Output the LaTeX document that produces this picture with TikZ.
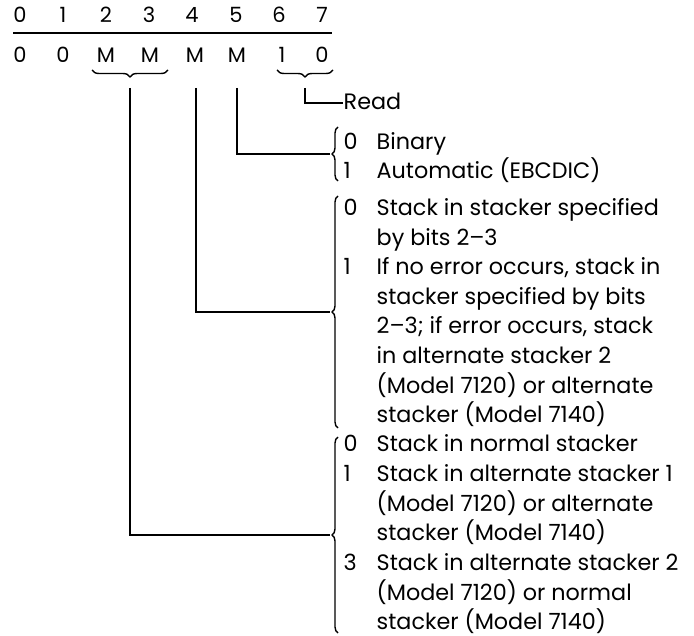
\documentclass[tikz,border=0pt]{standalone}
\usepackage{fontspec}
\setmainfont{Poppins}
\usetikzlibrary{decorations.pathreplacing}
\begin{document}
\begin{tikzpicture}[x=1pt,y=-1pt,line width=1.4pt,
  hdr/.style={inner sep=0pt,anchor=base,font=\fontsize{21}{24}\selectfont},
  blk/.style={inner sep=0pt,anchor=base west},
  conn/.style={line width=1.4pt},
  ubrace/.style={decorate,decoration={brace,amplitude=7pt},line width=1.4pt},
  lbrace/.style={decorate,decoration={brace,amplitude=6pt},line width=1.4pt}]
\useasboundingbox (0,0) rectangle (694,636);
% header
\foreach \i/\x in {0/20,1/63,2/106,3/149,4/192,5/236,6/279,7/322}
  \node[hdr] (h\i) at (\x,23) {\i};
\coordinate (hl) at (13,33);
\coordinate (hr) at (332,33);
\draw (hl) -- (hr);
\node[hdr] (b0) at (20,63) {0};
\node[hdr] (b1) at (63,63) {0};
\node[hdr] (b2) at (106,63) {M};
\node[hdr] (b3) at (150,63) {M};
\node[hdr] (b4) at (195,63) {M};
\node[hdr] (b5) at (237,63) {M};
\node[hdr] (b6) at (282,63) {1};
\node[hdr] (b7) at (322,63) {0};
% underbraces
\draw[ubrace] (168,70) -- (92,70);
\draw[ubrace] (333,70) -- (277,70);
% start points of connectors
\coordinate (c23) at (130,88);
\coordinate (c4) at (196,88);
\coordinate (c5) at (237,88);
\coordinate (c67) at (305,88);
% Read
\node[blk,font=\fontsize{22.3}{26}\selectfont] (read) at (343,110) {Read};
\draw[conn] (c67) |- ([yshift=-1pt]read.west);
% brace 1
\draw[lbrace] (338,181) -- (338,127);
\coordinate (t1) at (330,154);
\draw[conn] (c5) |- (t1);
\node[blk,font=\fontsize{22.3}{26}\selectfont] (blk1) at (343,150) {%
\begin{tabular}[t]{@{}p{33pt}@{}l@{}}
0 & Binary\\
1 & Automatic (EBCDIC)
\end{tabular}};
% brace 2
\draw[lbrace] (338,428) -- (338,196);
\coordinate (t2) at (330,312);
\draw[conn] (c4) |- (t2);
\node[blk,font=\fontsize{22.3}{29.5}\selectfont] (blk2) at (343,216) {%
\begin{tabular}[t]{@{}p{33pt}@{}l@{}}
0 & Stack in stacker specified\\
  & by bits 2--3\\
1 & If no error occurs, stack in\\
  & stacker specified by bits\\
  & 2--3; if error occurs, stack\\
  & in alternate stacker 2\\
  & (Model 7120) or alternate\\
  & stacker (Model 7140)
\end{tabular}};
% brace 3
\draw[lbrace] (338,633) -- (338,437);
\coordinate (t3) at (330,535);
\draw[conn] (c23) |- (t3);
\node[blk,font=\fontsize{22.3}{29.5}\selectfont] (blk3) at (343,452) {%
\begin{tabular}[t]{@{}p{33pt}@{}l@{}}
0 & Stack in normal stacker\\
1 & Stack in alternate stacker 1\\
  & (Model 7120) or alternate\\
  & stacker (Model 7140)\\
3 & Stack in alternate stacker 2\\
  & (Model 7120) or normal\\
  & stacker (Model 7140)
\end{tabular}};
\end{tikzpicture}
\end{document}
